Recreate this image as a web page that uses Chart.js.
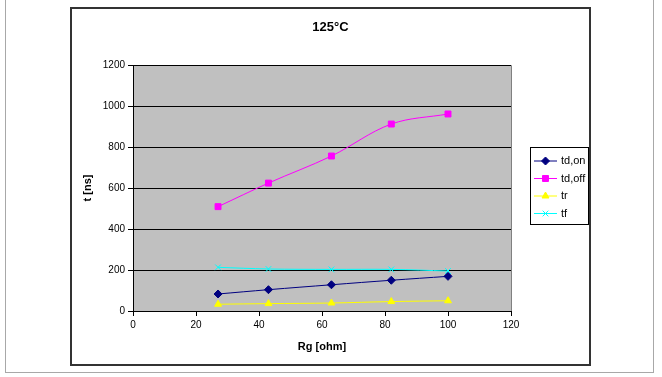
<!DOCTYPE html>
<html>
<head>
<meta charset="utf-8">
<script src="https://cdn.jsdelivr.net/npm/chart.js@4/dist/chart.umd.min.js"></script>
<style>
  body { margin: 0; background: #fff; width: 662px; height: 377px; position: relative; overflow: hidden; }
  #page { position: absolute; left: 5px; top: -2px; width: 649px; height: 375px; border: 1px solid #a8a8a8; box-sizing: border-box; }
  #box { position: absolute; left: 70px; top: 7px; width: 521px; height: 359px; border: 2px solid #333; box-sizing: border-box; background: #fff; }
  #box canvas { position: absolute; left: 0; top: 0; }
</style>
</head>
<body>
<div id="page"></div>
<div id="box"><canvas id="c" width="517" height="355"></canvas></div>
<script>
const rg = [27, 43, 63, 82, 100]
const tdOn = [83, 104, 128, 150, 169]
const tdOff = [509, 624, 756, 912, 961]
const tr = [33, 36, 39, 46, 50]
const tf = [213, 205, 203, 203, 195]
const seriesNames = ['td,on', 'td,off', 'tr', 'tf']

const FONT = 'Arial, "Liberation Sans", sans-serif'
const pts = arr => arr.map((v, i) => ({ x: rg[i], y: v }))

// grey plot area like Excel
const plotBg = {
  id: 'plotBg',
  beforeDraw(chart) {
    const { ctx, chartArea: a } = chart
    ctx.save()
    ctx.fillStyle = '#c0c0c0'
    ctx.fillRect(a.left, a.top, a.right - a.left, a.bottom - a.top)
    ctx.strokeStyle = '#808080'
    ctx.lineWidth = 1
    ctx.beginPath()
    ctx.moveTo(a.left, a.top + 0.5)
    ctx.lineTo(a.right + 0.5, a.top + 0.5)
    ctx.lineTo(a.right + 0.5, a.bottom)
    ctx.stroke()
    ctx.restore()
  }
}

// boxed legend at the right
const boxLegend = {
  id: 'boxLegend',
  afterDraw(chart) {
    const ctx = chart.ctx
    const x0 = 458, y0 = 138, w = 58, h = 77
    ctx.save()
    ctx.strokeStyle = '#000'
    ctx.lineWidth = 1
    ctx.strokeRect(x0 + 0.5, y0 + 0.5, w, h)
    ctx.font = '11px ' + FONT
    ctx.textBaseline = 'middle'
    chart.data.datasets.forEach((ds, i) => {
      const y = y0 + 14 + i * 17.5
      ctx.strokeStyle = ds.borderColor
      ctx.fillStyle = ds.backgroundColor
      ctx.beginPath()
      ctx.moveTo(x0 + 4, y)
      ctx.lineTo(x0 + 27, y)
      ctx.stroke()
      Chart.helpers.drawPoint(ctx, {
        pointStyle: ds.pointStyle, radius: ds.pointRadius, borderWidth: 1, rotation: 0
      }, x0 + 15.5, y)
      ctx.fillStyle = '#000'
      ctx.fillText(ds.label, x0 + 31, y)
    })
    ctx.restore()
  }
}

function makeSet(label, data, color, style, r) {
  return {
    label: label,
    data: pts(data),
    borderColor: color,
    backgroundColor: color,
    borderWidth: 1,
    pointStyle: style,
    pointRadius: r,
    pointBorderWidth: 1,
    tension: 0.35
  }
}

const oChart = new Chart(document.getElementById('c').getContext('2d'), {
  type: 'line',
  data: {
    datasets: [
      makeSet(seriesNames[0], tdOn, '#000080', 'rectRot', 4),
      makeSet(seriesNames[1], tdOff, '#ff00ff', 'rect', 4.2),
      makeSet(seriesNames[2], tr, '#ffff00', 'triangle', 4),
      makeSet(seriesNames[3], tf, '#00ffff', 'crossRot', 4)
    ]
  },
  options: {
    responsive: false,
    animation: false,
    layout: { padding: 0 },
    scales: {
      x: {
        type: 'linear',
        min: 0, max: 120,
        ticks: { stepSize: 20, color: '#000', font: { size: 10, family: FONT }, maxRotation: 0 },
        grid: { drawOnChartArea: false, drawTicks: true, tickLength: 5, color: '#000' },
        border: { color: '#000' },
        title: { display: true, text: 'Rg [ohm]', color: '#000', padding: { top: 0, bottom: 10 },
          font: { size: 11, weight: 'bold', family: FONT } },
        afterFit: s => { s.height = 53 }
      },
      y: {
        min: 0, max: 1200,
        ticks: { stepSize: 200, color: '#000', font: { size: 10, family: FONT }, callback: v => String(v) },
        grid: { color: '#000', tickLength: 5 },
        border: { color: '#000' },
        title: { display: true, text: 't [ns]', color: '#000', padding: { top: 9, bottom: 0 },
          font: { size: 11, weight: 'bold', family: FONT } },
        afterFit: s => { s.width = 61 }
      },
      // empty right axis that keeps room for the legend
      yRoom: {
        position: 'right',
        min: 0, max: 1200,
        ticks: { display: false },
        grid: { display: false },
        border: { display: false },
        afterFit: s => { s.width = 78 }
      }
    },
    plugins: {
      legend: { display: false },
      tooltip: { enabled: false },
      title: {
        display: true,
        text: '125°C',
        color: '#000',
        font: { size: 13, weight: 'bold', family: FONT },
        padding: { top: 11, bottom: 29.4 }
      }
    }
  },
  plugins: [plotBg, boxLegend]
})
</script>
</body>
</html>
